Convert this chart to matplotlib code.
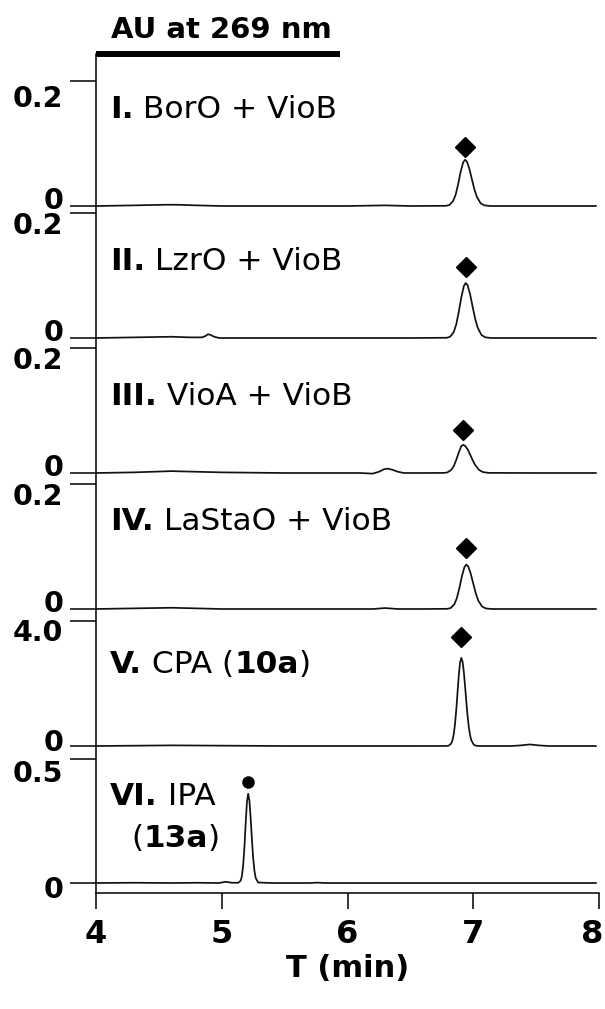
import matplotlib
matplotlib.use("Agg")
import matplotlib.pyplot as plt
import matplotlib.transforms as mtransforms

plt.rcParams['font.family'] = 'DejaVu Sans'

# --------------------------------------------------
# chromatogram traces (T in min, AU)
t_I = [4.0, 4.3, 4.55, 4.65, 4.8, 5.0, 5.5, 6.0, 6.3, 6.5, 6.785, 6.81, 6.84, 6.86,
       6.88, 6.90, 6.92, 6.935, 6.95, 6.97, 6.99, 7.01, 7.03, 7.06, 7.09, 7.135, 7.5, 7.975]
y_I = [0.000, 0.001, 0.002, 0.002, 0.001, 0.000, 0.000, 0.000, 0.001, 0.000, 0.0003, 0.0016, 0.008, 0.018,
       0.035, 0.055, 0.070, 0.074, 0.071, 0.059, 0.042, 0.026, 0.014, 0.004, 0.001, 0.000, 0.000, 0.000]

t_II = [4.0, 4.3, 4.6, 4.75, 4.84, 4.87, 4.89, 4.91, 4.94, 4.98, 5.2, 5.6, 6.0, 6.5,
        6.79, 6.815, 6.845, 6.865, 6.885, 6.905, 6.925, 6.94, 6.955, 6.975, 6.995, 7.015,
        7.035, 7.065, 7.095, 7.14, 7.5, 7.975]
y_II = [0.000, 0.001, 0.002, 0.001, 0.001, 0.003, 0.006, 0.005, 0.002, 0.000, 0.000, 0.000, 0.000, 0.000,
        0.0004, 0.0019, 0.0095, 0.022, 0.042, 0.065, 0.083, 0.088, 0.0844, 0.070, 0.050, 0.031,
        0.0166, 0.0049, 0.0011, 0.000, 0.000, 0.000]

t_III = [4.0, 4.3, 4.6, 4.8, 5.0, 5.5, 5.9, 6.1, 6.2, 6.25, 6.29, 6.32, 6.36, 6.40, 6.45, 6.6,
         6.77, 6.795, 6.825, 6.845, 6.865, 6.885, 6.905, 6.92, 6.935, 6.955, 6.975, 6.995,
         7.015, 7.045, 7.075, 7.12, 7.5, 7.975]
y_III = [0.000, 0.001, 0.003, 0.002, 0.001, 0.000, 0.000, 0.000, -0.001, 0.002, 0.006, 0.007, 0.005, 0.002, 0.000, 0.000,
         0.0002, 0.001, 0.005, 0.011, 0.021, 0.033, 0.043, 0.045, 0.0436, 0.038, 0.0296, 0.0206,
         0.0129, 0.0051, 0.0016, 0.0002, 0.000, 0.000]

t_IV = [4.0, 4.3, 4.6, 4.8, 5.0, 5.5, 6.0, 6.2, 6.3, 6.4, 6.6, 6.795, 6.82, 6.85, 6.87, 6.89,
        6.91, 6.93, 6.945, 6.96, 6.98, 7.00, 7.02, 7.04, 7.07, 7.10, 7.145, 7.5, 7.975]
y_IV = [0.000, 0.001, 0.002, 0.001, 0.000, 0.000, 0.000, 0.000, 0.0015, 0.000, 0.000, 0.0003, 0.0015, 0.0077, 0.0177, 0.0337,
        0.0525, 0.0672, 0.071, 0.068, 0.0566, 0.0406, 0.0251, 0.0134, 0.004, 0.0009, 0.000, 0.000, 0.000]

t_V = [4.0, 4.6, 5.5, 6.5, 6.785, 6.805, 6.825, 6.835, 6.845, 6.855, 6.865, 6.875, 6.885, 6.895,
       6.905, 6.915, 6.925, 6.935, 6.945, 6.955, 6.965, 6.975, 6.985, 7.005, 7.025, 7.06,
       7.3, 7.38, 7.45, 7.52, 7.6, 7.975]
y_V = [0.00, 0.02, 0.00, 0.00, 0.001, 0.011, 0.082, 0.186, 0.381, 0.702, 1.159, 1.712, 2.259, 2.668,
       2.82, 2.702, 2.372, 1.912, 1.410, 0.956, 0.595, 0.338, 0.178, 0.037, 0.006, 0.0,
       0.0, 0.02, 0.05, 0.02, 0.0, 0.0]

t_VI = [4.0, 4.3, 4.6, 4.8, 4.98, 5.03, 5.08, 5.12, 5.13, 5.15, 5.16, 5.17, 5.18, 5.19, 5.20,
        5.21, 5.22, 5.23, 5.24, 5.25, 5.26, 5.27, 5.29, 5.4, 5.7, 5.76, 5.82, 6.2, 7.0, 7.975]
y_VI = [0.000, 0.001, 0.000, 0.001, 0.000, 0.005, 0.001, 0.001, 0.0005, 0.009, 0.027, 0.069, 0.142, 0.238, 0.325,
        0.36, 0.332, 0.261, 0.175, 0.100, 0.049, 0.020, 0.002, 0.000, 0.000, 0.0015, 0.000, 0.000, 0.000, 0.000]

traces_t = [t_I, t_II, t_III, t_IV, t_V, t_VI]
traces_y = [y_I, y_II, y_III, y_IV, y_V, y_VI]

# peak markers (diamond = product, dot = IPA)
mark_t = [6.935, 6.94, 6.92, 6.945, 6.905, 5.21]
mark_y = [0.094, 0.114, 0.069, 0.098, 3.49, 0.407]
mark_sym = ['D', 'D', 'D', 'D', 'D', 'o']

panel_top = [0.2, 0.2, 0.2, 0.2, 4.0, 0.5]
panel_top_lbl = ['0.2', '0.2', '0.2', '0.2', '4.0', '0.5']
# (text, bold?) pieces of each panel title
panel_names = [[('I.', True), (' BorO + VioB', False)],
               [('II.', True), (' LzrO + VioB', False)],
               [('III.', True), (' VioA + VioB', False)],
               [('IV.', True), (' LaStaO + VioB', False)],
               [('V.', True), (' CPA (', False), ('10a', True), (')', False)],
               [('VI.', True), (' IPA', False)]]
vi_second_line = [('(', False), ('13a', True), (')', False)]
x_ticks = [4, 5, 6, 7, 8]

# --------------------------------------------------
# layout in pixels
W, H = 605, 1009
x0, x1 = 96, 599
frame_top, frame_bot = 54, 893
base_px = [206, 338, 473, 609, 746, 883]
top_px = [81, 213, 348, 484, 621, 759]
name_y = [0.704, 0.544, 0.544, 0.632, 0.584, 0.629]
zero_dy = [5.5, 5.5, 5.5, 5.5, 4, -3]          # pt shift of the "0" labels
top_dy = [-10.5, -7.5, -7.5, -7.5, -6.5, -8.5]  # pt shift of the top labels
FS = 22.5


def rich_text(axis, x, y, pieces, transform):
    # draws bold / normal pieces one after another on a common baseline
    prev = None
    for s, bold in pieces:
        w = 'bold' if bold else 'normal'
        if prev is None:
            prev = axis.text(x, y, s, transform=transform, fontsize=FS, fontweight=w,
                             va='baseline', ha='left')
        else:
            prev = axis.annotate(s, xy=(1, 0), xycoords=prev, fontsize=FS, fontweight=w,
                                 va='bottom', ha='left')


fig = plt.figure(figsize=(W / 100, H / 100), dpi=100)

ax = fig.add_axes([x0 / W, 1 - frame_bot / H, (x1 - x0) / W, (frame_bot - frame_top) / H])
ax.set_xlim(4, 8)
ax.set_ylim(0, 1)
ax.spines['top'].set_visible(False)
ax.spines['right'].set_visible(False)
ax.spines['left'].set_linewidth(1.1)
ax.spines['bottom'].set_linewidth(1.1)
ax.set_yticks([])
ax.set_xticks(x_ticks, [str(v) for v in x_ticks], fontweight='bold')
ax.tick_params(axis='x', length=11.5, width=1.1, pad=7, labelsize=23, direction='out')
xl = ax.get_xticklabels()
xl[-1].set_transform(xl[-1].get_transform() + mtransforms.ScaledTranslation(-5 / 72, 0, fig.dpi_scale_trans))
ax.set_xlabel('T (min)', fontsize=22, fontweight='bold', labelpad=3)

# thick bar with the detector wavelength
ax.plot([4, 5.94], [1, 1], color='k', lw=4.3, solid_capstyle='butt', clip_on=False)
ax.text(5.0, 1.019, 'AU at 269 nm', fontsize=21, fontweight='bold', ha='center', va='baseline')

for i in range(6):
    b, t = base_px[i], top_px[i]
    pax = fig.add_axes([x0 / W, 1 - b / H, (x1 - x0) / W, (b - t) / H])
    pax.patch.set_visible(False)
    for s in pax.spines.values():
        s.set_visible(False)
    pax.set_xlim(4, 8)
    pax.set_ylim(0, panel_top[i])
    pax.set_xticks([])
    pax.set_yticks([0, panel_top[i]], ['0', panel_top_lbl[i]], fontweight='bold')
    pax.tick_params(axis='y', length=18.7, width=1.1, pad=5, labelsize=20.5, direction='out')
    for lbl, dy in zip(pax.get_yticklabels(), [zero_dy[i], top_dy[i]]):
        lbl.set_transform(lbl.get_transform() + mtransforms.ScaledTranslation(0, dy / 72, fig.dpi_scale_trans))

    pax.plot(traces_t[i], traces_y[i], color='#111111', lw=1.25, clip_on=False)
    ms = 10 if mark_sym[i] == 'D' else 8
    pax.plot(mark_t[i], mark_y[i], mark_sym[i], color='k', ms=ms, clip_on=False)

    tr = mtransforms.blended_transform_factory(pax.transData, pax.transAxes)
    rich_text(pax, 4.11, name_y[i], panel_names[i], tr)
    if i == 5:
        rich_text(pax, 4.28, 0.29, vi_second_line, tr)

fig.savefig('out.png', dpi=100)
